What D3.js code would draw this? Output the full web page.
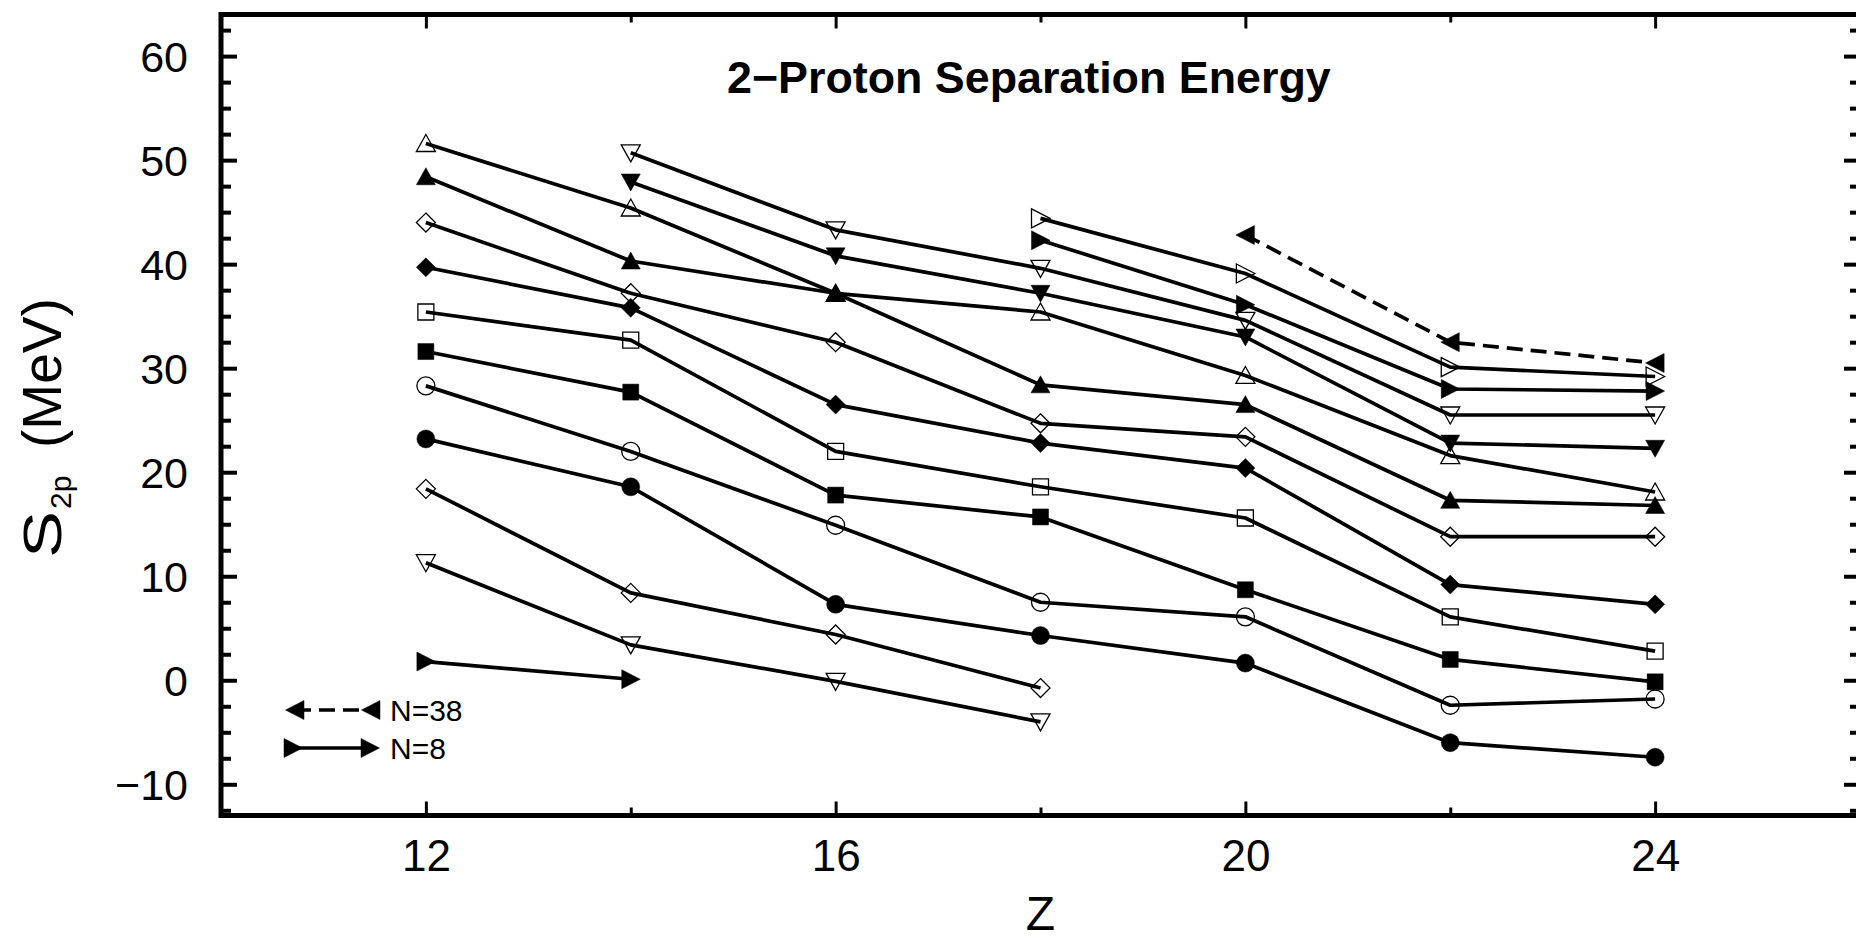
<!DOCTYPE html>
<html><head><meta charset="utf-8">
<script src="https://cdn.jsdelivr.net/npm/d3@7"></script>
<style>
html,body{margin:0;padding:0;background:#fff;}
svg{display:block;}
text{font-family:"Liberation Sans",Arial,Helvetica,sans-serif;fill:#000;}
</style></head><body>
<svg id="chart" width="1856" height="942"></svg>
<script>
// ---- data ----
const Z = [12, 14, 16, 18, 20, 22, 24];
const N8  = [1.8, 0.1, null, null, null, null, null];
const N10 = [11.3, 3.4, -0.1, -4.0, null, null, null];
const N12 = [18.4, 8.4, 4.4, -0.75, null, null, null];
const N14 = [23.2, 18.6, 7.3, 4.3, 1.65, -6.0, -7.4];
const N16 = [28.3, 22.0, 14.9, 7.5, 6.1, -2.4, -1.8];
const N18 = [31.6, 27.7, 17.8, 15.7, 8.7, 2.0, -0.15];
const N20 = [35.4, 32.7, 22.0, 18.6, 15.6, 6.1, 2.8];
const N22 = [39.7, 35.8, 26.5, 22.8, 20.4, 9.2, 7.3];
const N24 = [44.0, 37.2, 32.5, 24.7, 23.4, 13.8, 13.8];
const N26 = [48.4, 40.3, 37.2, 28.4, 26.5, 17.3, 16.8];
const N28 = [51.6, 45.4, 37.2, 35.4, 29.3, 21.6, 18.1];
const N30 = [null, 47.9, 40.8, 37.2, 33.0, 22.8, 22.3];
const N32 = [null, 50.7, 43.3, 39.6, 34.6, 25.5, 25.5];
const N34 = [null, null, null, 42.3, 36.1, 28.0, 27.8];
const N36 = [null, null, null, 44.4, 39.1, 30.1, 29.2];
const N38 = [null, null, null, null, 42.8, 32.5, 30.5];

const seriesNames  = ["N=8","N=10","N=12","N=14","N=16","N=18","N=20","N=22","N=24","N=26","N=28","N=30","N=32","N=34","N=36","N=38"];
const seriesValues = [N8, N10, N12, N14, N16, N18, N20, N22, N24, N26, N28, N30, N32, N34, N36, N38];
const seriesShapes = ["triRight","triDown","diamond","circle","circle","square","square","diamond","diamond","triUp","triUp","triDown","triDown","triRight","triRight","triLeft"];
const seriesFilled = [true,false,false,true,false,true,false,true,false,true,false,true,false,true,false,true];
const seriesDashed = [false,false,false,false,false,false,false,false,false,false,false,false,false,false,false,true];

const yMajorTicks = [-10, 0, 10, 20, 30, 40, 50, 60];
const yMinorTicks = [-12.5, -7.5, -5, -2.5, 2.5, 5, 7.5, 12.5, 15, 17.5, 22.5, 25, 27.5, 32.5, 35, 37.5, 42.5, 45, 47.5, 52.5, 55, 57.5, 62.5];
const xMajorTicks = [12, 16, 20, 24];
const xMinorTicks = [10, 14, 18, 22, 26];
const legendNames = ["N=38", "N=8"];

const titleText = "2\u2212Proton Separation Energy";

// ---- scales ----
const svg = d3.select("#chart");
const x = d3.scaleLinear().domain([10, 26]).range([221, 1860]);
const y = d3.scaleLinear().domain([-13, 64]).range([815.5, 14.5]);
const FONT = '"Liberation Sans",Arial,Helvetica,sans-serif';

function shapePath(kind) {
  switch (kind) {
    case "triUp":    return "M0,-9L9.5,8L-9.5,8Z";
    case "triDown":  return "M0,9L9.5,-8L-9.5,-8Z";
    case "triRight": return "M9.5,0L-9,-9.5L-9,9.5Z";
    case "triLeft":  return "M-9.5,0L9,-9.5L9,9.5Z";
    case "square":   return "M-8,-8H8V8H-8Z";
    case "diamond":  return "M0,-9.5L9.5,0L0,9.5L-9.5,0Z";
    case "circle":   return "M9,0A9,9 0 1,1 -9,0A9,9 0 1,1 9,0Z";
  }
}

// ---- axes (ticks inward) ----
function styleAxis(g, sw, fs) {
  g.select(".domain").remove();
  g.selectAll("line").attr("stroke", "#000").attr("stroke-width", sw);
  g.attr("font-family", FONT);
  if (fs) g.attr("font-size", fs);
  g.selectAll("text").attr("fill", "#000");
}
// left
svg.append("g").attr("transform", `translate(${x(10)},0)`)
  .call(d3.axisLeft(y).tickValues(yMajorTicks).tickSize(-16).tickPadding(33))
  .call(g => styleAxis(g, 4, 43))
  .call(g => g.selectAll("text").attr("dy", "0.36em"));
svg.append("g").attr("transform", `translate(${x(10)},0)`)
  .call(d3.axisLeft(y).tickValues(yMinorTicks).tickSize(-10).tickFormat(""))
  .call(g => styleAxis(g, 4));
// right
svg.append("g").attr("transform", `translate(${x(26)},0)`)
  .call(d3.axisRight(y).tickValues(yMajorTicks).tickSize(-16).tickFormat(""))
  .call(g => styleAxis(g, 4));
svg.append("g").attr("transform", `translate(${x(26)},0)`)
  .call(d3.axisRight(y).tickValues(yMinorTicks).tickSize(-10).tickFormat(""))
  .call(g => styleAxis(g, 4));
// bottom
svg.append("g").attr("transform", `translate(0,${y(-13)})`)
  .call(d3.axisBottom(x).tickValues(xMajorTicks).tickSize(-14).tickPadding(24))
  .call(g => styleAxis(g, 3, 44));
svg.append("g").attr("transform", `translate(0,${y(-13)})`)
  .call(d3.axisBottom(x).tickValues(xMinorTicks).tickSize(-8).tickFormat(""))
  .call(g => styleAxis(g, 3));
// top
svg.append("g").attr("transform", `translate(0,${y(64)})`)
  .call(d3.axisTop(x).tickValues(xMajorTicks).tickSize(-14).tickFormat(""))
  .call(g => styleAxis(g, 3));
svg.append("g").attr("transform", `translate(0,${y(64)})`)
  .call(d3.axisTop(x).tickValues(xMinorTicks).tickSize(-8).tickFormat(""))
  .call(g => styleAxis(g, 3));

// frame
svg.append("rect")
  .attr("x", x(10)).attr("y", y(64))
  .attr("width", x(26) - x(10)).attr("height", y(-13) - y(64))
  .attr("fill", "none").attr("stroke", "#000").attr("stroke-width", 5);

// ---- series ----
const line = d3.line()
  .defined(d => d.v !== null)
  .x(d => x(d.z)).y(d => y(d.v));

const linesG = svg.append("g");
const marksG = svg.append("g");
seriesValues.forEach((vals, i) => {
  const pts = Z.map((z, k) => ({ z: z, v: vals[k] }));
  linesG.append("path").datum(pts)
    .attr("d", line)
    .attr("fill", "none").attr("stroke", "#000").attr("stroke-width", 3.7)
    .attr("stroke-linejoin", "round")
    .attr("stroke-dasharray", seriesDashed[i] ? "16,8" : null)
    .attr("data-series", seriesNames[i]);
  marksG.selectAll(null).data(pts.filter(d => d.v !== null)).enter()
    .append("path")
    .attr("transform", d => `translate(${x(d.z)},${y(d.v)})`)
    .attr("d", shapePath(seriesShapes[i]))
    .attr("fill", seriesFilled[i] ? "#000" : "none")
    .attr("stroke", "#000")
    .attr("stroke-width", seriesFilled[i] ? 0.5 : 1.3);
});

// ---- legend ----
const legendIdx = [seriesNames.indexOf("N=38"), seriesNames.indexOf("N=8")];
const legendY = [710, 748];
legendIdx.forEach((si, j) => {
  const g = svg.append("g");
  const x0 = j === 0 ? 295 : 293, x1 = j === 0 ? 371 : 370;
  g.append("line").attr("x1", x0).attr("x2", x1).attr("y1", legendY[j]).attr("y2", legendY[j])
    .attr("stroke", "#000").attr("stroke-width", 3.7)
    .attr("stroke-dasharray", seriesDashed[si] ? "16,8" : null);
  [x0, x1].forEach(px => {
    g.append("path").attr("transform", `translate(${px},${legendY[j]})`)
      .attr("d", shapePath(seriesShapes[si]))
      .attr("fill", seriesFilled[si] ? "#000" : "none").attr("stroke", "#000").attr("stroke-width", 0.5);
  });
  g.append("text").attr("x", 390).attr("y", legendY[j] + 10.5)
    .attr("font-size", 30).text(legendNames[j]);
});

// ---- title ----
svg.append("text").attr("x", 727).attr("y", 93)
  .attr("font-size", 44.8).attr("font-weight", "bold").text(titleText);

// ---- axis titles ----
svg.append("text").attr("x", (x(10) + x(26)) / 2).attr("y", 930)
  .attr("text-anchor", "middle").attr("font-size", 48).text("Z");

const yl = svg.append("g").attr("transform", "translate(61,558) rotate(-90)");
yl.append("text").attr("x", 0).attr("y", 0).attr("font-size", 54)
  .attr("textLength", 47).attr("lengthAdjust", "spacingAndGlyphs").text("S");
yl.append("text").attr("x", 49).attr("y", 10).attr("font-size", 30).text("2p");
yl.append("text").attr("x", 110).attr("y", 0).attr("font-size", 55).text("(MeV)");
</script>
</body></html>
